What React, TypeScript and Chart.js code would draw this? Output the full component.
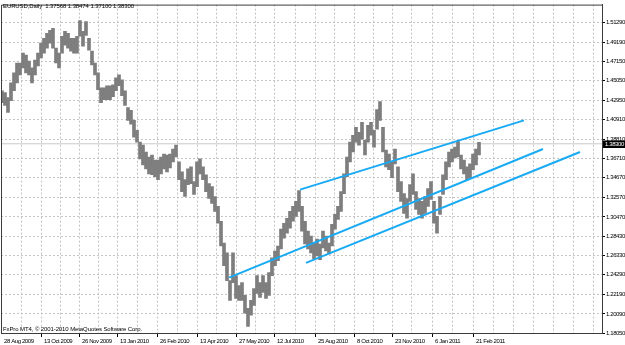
import React, { useEffect, useRef } from 'react';
import { Chart, registerables } from 'chart.js';

Chart.register(...registerables);

const TITLE_TEXT = 'EURUSD,Daily  1.37568 1.38474 1.37100 1.38300';
const FOOTER_TEXT = 'FxPro MT4, \u00a9 2001-2010 MetaQuotes Software Corp.';

// bar numbers on the time axis (first sampled bar and sampling step)
const FIRST_BAR = 1;
const BAR_STEP = 3;

const highs = [
  1.4398, 1.4377, 1.4324, 1.4483, 1.4589, 1.4695, 1.4695, 1.4801, 1.4780, 1.4716,
  1.4642, 1.4727, 1.4801, 1.4907, 1.4959, 1.5012, 1.5044, 1.5065, 1.4854, 1.4801,
  1.4981, 1.5034, 1.5012, 1.4959, 1.4959, 1.4981, 1.5150, 1.5034, 1.5139, 1.4959,
  1.4822, 1.4695, 1.4589, 1.4430, 1.4430, 1.4451, 1.4451, 1.4462, 1.4536, 1.4568,
  1.4515, 1.4398, 1.4218, 1.4187, 1.4081, 1.3975, 1.3848, 1.3816, 1.3742, 1.3689,
  1.3710, 1.3657, 1.3657, 1.3689, 1.3721, 1.3710, 1.3721, 1.3774, 1.3816, 1.3636,
  1.3530, 1.3446, 1.3562, 1.3583, 1.3425, 1.3636, 1.3668, 1.3583, 1.3499, 1.3403,
  1.3372, 1.3266, 1.3160, 1.3001, 1.2768, 1.2662, 1.2366, 1.2662, 1.2419, 1.2313,
  1.2345, 1.2207, 1.2070, 1.2154, 1.2281, 1.2419, 1.2345, 1.2419, 1.2345, 1.2451,
  1.2609, 1.2683, 1.2736, 1.2916, 1.2980, 1.3033, 1.3107, 1.3160, 1.3213, 1.3330,
  1.3160, 1.3001, 1.2895, 1.2842, 1.2768, 1.2811, 1.2758, 1.2895, 1.2842, 1.2768,
  1.2969, 1.3075, 1.3160, 1.3319, 1.3509, 1.3689, 1.3848, 1.3922, 1.4007, 1.3954,
  1.4060, 1.3869, 1.4028, 1.4060, 1.3975, 1.4197, 1.4283, 1.4007, 1.3763, 1.3721,
  1.3636, 1.3774, 1.3583, 1.3425, 1.3297, 1.3245, 1.3393, 1.3509, 1.3319, 1.3245,
  1.3213, 1.3266, 1.3350, 1.3425, 1.3213, 1.3054, 1.3266, 1.3499, 1.3636, 1.3742,
  1.3774, 1.3795, 1.3859, 1.3710, 1.3657, 1.3583, 1.3615, 1.3721, 1.3774, 1.3847,
];

const lows = [
  1.4271, 1.4240, 1.4166, 1.4293, 1.4398, 1.4483, 1.4568, 1.4642, 1.4589, 1.4568,
  1.4483, 1.4568, 1.4663, 1.4748, 1.4801, 1.4854, 1.4907, 1.4854, 1.4695, 1.4642,
  1.4801, 1.4885, 1.4854, 1.4822, 1.4801, 1.4801, 1.4981, 1.4875, 1.4991, 1.4832,
  1.4674, 1.4568, 1.4409, 1.4271, 1.4303, 1.4303, 1.4303, 1.4335, 1.4398, 1.4451,
  1.4346, 1.4240, 1.4081, 1.4039, 1.3901, 1.3848, 1.3668, 1.3604, 1.3562, 1.3509,
  1.3499, 1.3477, 1.3446, 1.3509, 1.3562, 1.3530, 1.3573, 1.3636, 1.3689, 1.3446,
  1.3319, 1.3266, 1.3393, 1.3403, 1.3287, 1.3372, 1.3509, 1.3446, 1.3319, 1.3245,
  1.3192, 1.3107, 1.2980, 1.2736, 1.2525, 1.2366, 1.2154, 1.2345, 1.2175, 1.2154,
  1.2154, 1.2017, 1.1876, 1.1995, 1.2101, 1.2228, 1.2186, 1.2239, 1.2175, 1.2207,
  1.2419, 1.2525, 1.2578, 1.2705, 1.2821, 1.2874, 1.2927, 1.3001, 1.3054, 1.3107,
  1.2895, 1.2758, 1.2705, 1.2662, 1.2599, 1.2631, 1.2590, 1.2715, 1.2683, 1.2652,
  1.2736, 1.2916, 1.3022, 1.3107, 1.3297, 1.3477, 1.3636, 1.3742, 1.3848, 1.3816,
  1.3880, 1.3710, 1.3848, 1.3922, 1.3795, 1.3986, 1.4081, 1.3742, 1.3583, 1.3552,
  1.3467, 1.3615, 1.3319, 1.3213, 1.3086, 1.3033, 1.3213, 1.3287, 1.3128, 1.3075,
  1.3033, 1.3086, 1.3160, 1.3234, 1.2980, 1.2874, 1.3075, 1.3287, 1.3446, 1.3583,
  1.3636, 1.3679, 1.3689, 1.3562, 1.3509, 1.3446, 1.3467, 1.3552, 1.3604, 1.3710,
];

const priceTicks = [
  1.5129, 1.4919, 1.4715, 1.4505, 1.4295, 1.4091, 1.3881, 1.3671, 1.3467,
  1.3257, 1.3047, 1.2843, 1.2633, 1.2429, 1.2219, 1.2009, 1.1805,
];

const dateLabels = [
  '28 Aug 2009', '13 Oct 2009', '26 Nov 2009', '13 Jan 2010', '26 Feb 2010', '13 Apr 2010',
  '27 May 2010', '12 Jul 2010', '25 Aug 2010', '8 Oct 2010', '23 Nov 2010', '6 Jan 2011', '21 Feb 2011',
];
const dateLabelBars = [0, 40, 78, 116, 156, 196, 235, 273, 314, 353, 391, 431, 472];
const midGridBars = [20, 59, 97, 136, 176, 215, 254, 294, 334, 372, 411, 451, 492, 512, 532, 552, 572, 592];

const upperChannel = [{ x: 299, y: 1.3340 }, { x: 523, y: 1.4081 }];
const middleChannel = [{ x: 228, y: 1.2398 }, { x: 542, y: 1.3774 }];
const lowerChannel = [{ x: 305, y: 1.2556 }, { x: 579, y: 1.3742 }];

const lastClose = 1.383;

const X_MIN = 0;
const X_MAX = 601;
const Y_MIN = 1.1805;
const Y_MAX = 1.532;

const FONT_FAMILY = "'Liberation Sans', Arial, sans-serif";
const TEXT_SIZE = 6;
const GRID_COLOR = '#c4c4c4';
const FRAME_COLOR = '#3c3c3c';
const BAR_COLOR = '#7e7e7e';
const CHANNEL_COLOR = '#18aaf4';

const decorPlugin = {
  id: 'mt4Decor',
  beforeDraw(chart: any) {
    // narrow the glyph spacing to mimic the terminal's compact bitmap font
    (chart.ctx as any).letterSpacing = '-0.4px';
  },
  afterDraw(chart: any) {
    const { ctx, chartArea: a } = chart;
    ctx.save();
    ctx.strokeStyle = FRAME_COLOR;
    ctx.lineWidth = 1;
    ctx.beginPath();
    ctx.moveTo(a.left + 0.5, a.bottom);
    ctx.lineTo(a.left + 0.5, a.top + 0.5);
    ctx.lineTo(a.right, a.top + 0.5);
    ctx.stroke();

    ctx.font = `${TEXT_SIZE}px ${FONT_FAMILY}`;
    ctx.textBaseline = 'middle';
    ctx.textAlign = 'left';
    ctx.fillStyle = '#000';
    (ctx as any).letterSpacing = '-0.1px';
    ctx.fillText(TITLE_TEXT, 3, 6.5);
    ctx.fillText(FOOTER_TEXT, 3, 329);

    const y = Math.round(chart.scales.y.getPixelForValue(lastClose));
    ctx.fillStyle = '#000';
    ctx.fillRect(a.right + 1, y - 3.5, chart.width - a.right - 1, 7.5);
    (ctx as any).letterSpacing = '-0.4px';
    ctx.fillStyle = '#fff';
    ctx.fillText(lastClose.toFixed(5), a.right + 3, y + 0.5);
    ctx.restore();
  },
};

export default function App() {
  const canvasRef = useRef<HTMLCanvasElement | null>(null);

  useEffect(() => {
    document.body.style.margin = '0';
    const canvas = canvasRef.current;
    if (!canvas) return;

    const barData = highs.map((h, i) => ({ x: FIRST_BAR + i * BAR_STEP, y: [lows[i], h] }));
    const priceLine = [{ x: X_MIN, y: lastClose }, { x: X_MAX, y: lastClose }];
    const labelFor = (v: number) => {
      const k = dateLabelBars.indexOf(v);
      return k >= 0 ? dateLabels[k] : '';
    };

    const chart = new Chart(canvas, {
      type: 'bar',
      data: {
        datasets: [
          { type: 'line', data: upperChannel, borderColor: CHANNEL_COLOR, borderWidth: 2, pointRadius: 0, fill: false, order: 0 } as any,
          { type: 'line', data: middleChannel, borderColor: CHANNEL_COLOR, borderWidth: 2, pointRadius: 0, fill: false, order: 0 } as any,
          { type: 'line', data: lowerChannel, borderColor: CHANNEL_COLOR, borderWidth: 2, pointRadius: 0, fill: false, order: 0 } as any,
          { type: 'bar', data: barData, backgroundColor: BAR_COLOR, barThickness: 3, borderWidth: 0, order: 1 } as any,
          { type: 'line', data: priceLine, borderColor: '#c8c8c8', borderWidth: 1, pointRadius: 0, fill: false, order: 2 } as any,
        ],
      },
      options: {
        responsive: false,
        animation: false,
        events: [],
        layout: { padding: { left: 1, top: 1, right: 0, bottom: 0 } },
        plugins: { legend: { display: false }, tooltip: { enabled: false }, title: { display: false } },
        scales: {
          x: {
            type: 'linear',
            position: 'bottom',
            min: X_MIN,
            max: X_MAX,
            offset: false,
            bounds: 'data',
            afterBuildTicks: (scale: any) => {
              const vals = [...dateLabelBars, ...midGridBars].sort((p, q) => p - q);
              scale.ticks = vals.map((v) => ({ value: v }));
            },
            afterFit: (scale: any) => { scale.height = 12; },
            ticks: {
              autoSkip: false,
              maxRotation: 0,
              minRotation: 0,
              align: 'start',
              labelOffset: 3,
              padding: 1,
              color: '#000',
              font: { family: FONT_FAMILY, size: TEXT_SIZE },
              callback: (v: any) => labelFor(Number(v)),
            },
            grid: {
              offset: false,
              color: (c: any) => (c.tick && c.tick.value === 0 ? 'rgba(0,0,0,0)' : GRID_COLOR),
              lineWidth: 1,
              tickLength: 4,
              tickColor: (c: any) => (c.tick && labelFor(c.tick.value) && c.tick.value !== 0 ? '#000' : 'rgba(0,0,0,0)'),
            },
            border: { display: true, color: FRAME_COLOR, width: 1, dash: [2, 2] },
          } as any,
          y: {
            type: 'linear',
            position: 'right',
            min: Y_MIN,
            max: Y_MAX,
            bounds: 'data',
            afterBuildTicks: (scale: any) => {
              scale.ticks = priceTicks.map((v) => ({ value: v }));
            },
            afterFit: (scale: any) => { scale.width = 23; },
            ticks: {
              autoSkip: false,
              padding: 1,
              color: '#000',
              font: { family: FONT_FAMILY, size: TEXT_SIZE },
              callback: (v: any) => Number(v).toFixed(5),
            },
            grid: {
              color: GRID_COLOR,
              lineWidth: 1,
              tickLength: 3,
              tickColor: '#000',
            },
            border: { display: true, color: FRAME_COLOR, width: 1, dash: [2, 2] },
          } as any,
        },
      } as any,
      plugins: [decorPlugin],
    });

    return () => chart.destroy();
  }, []);

  return (
    <div style={{ width: 625, height: 345, position: 'relative', background: '#fff' }}>
      <canvas ref={canvasRef} width={625} height={345} style={{ display: 'block' }} />
    </div>
  );
}
